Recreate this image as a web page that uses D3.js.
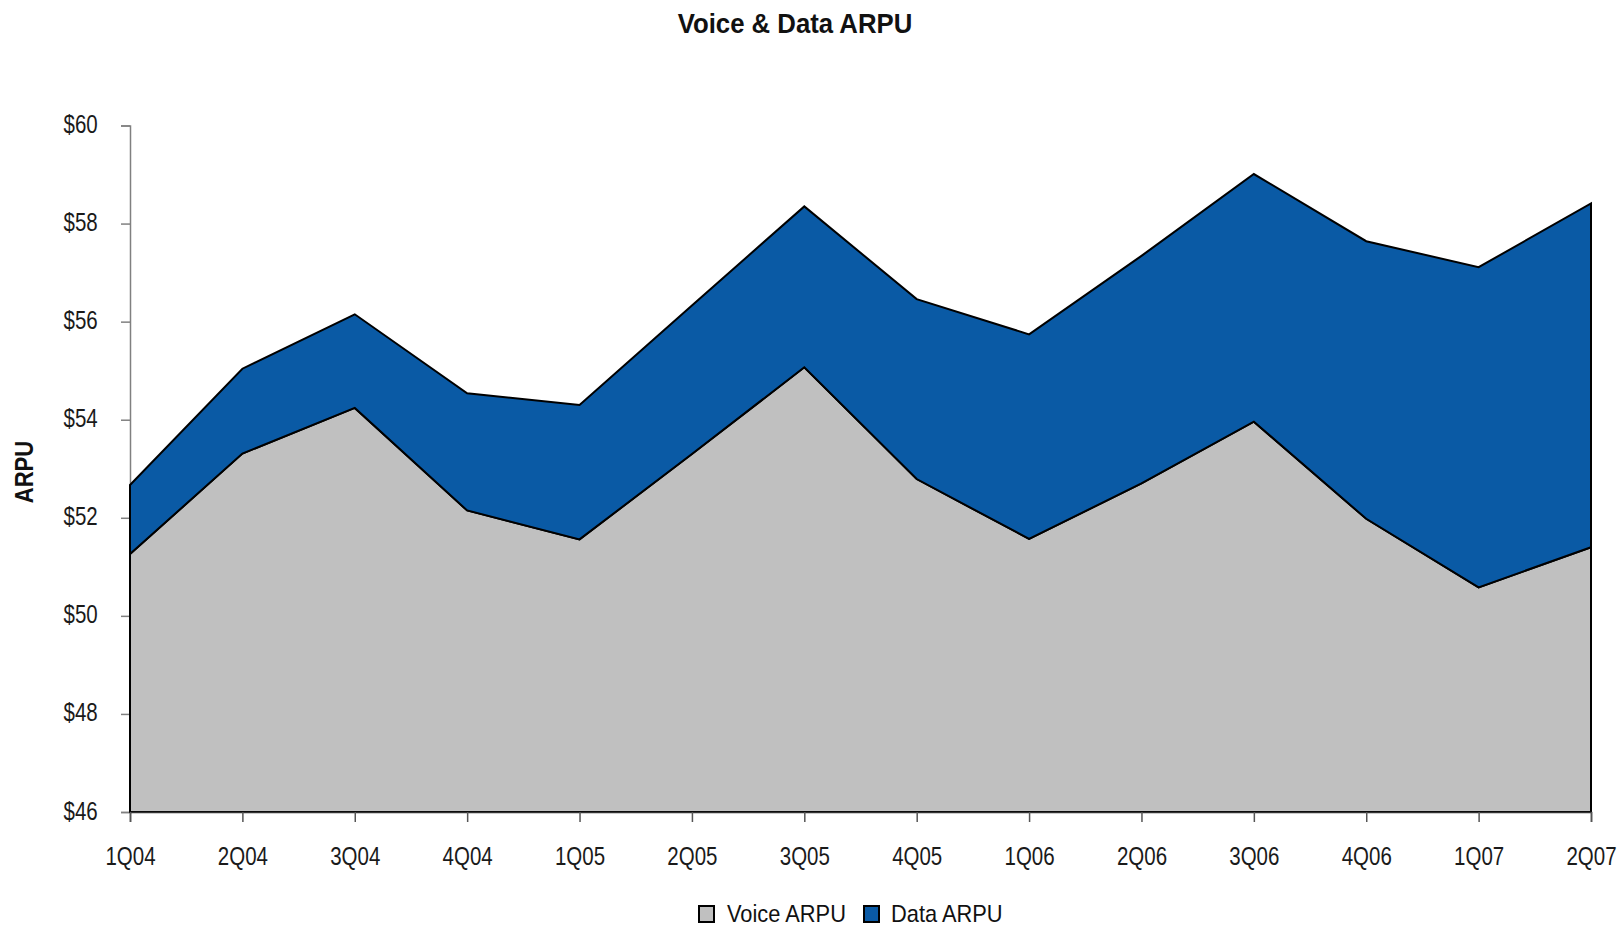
<!DOCTYPE html>
<html><head><meta charset="utf-8">
<script src="https://cdn.jsdelivr.net/npm/d3@7"></script>
<style>
html,body{margin:0;padding:0;background:#fff;}
svg{display:block;font-family:"Liberation Sans",Arial,sans-serif;}
</style></head>
<body>
<svg id="chart" width="1618" height="928"></svg>
<script>
const categories = ["1Q04","2Q04","3Q04","4Q04","1Q05","2Q05","3Q05","4Q05","1Q06","2Q06","3Q06","4Q06","1Q07","2Q07"];
const voiceARPU = [51.26,53.31,54.24,52.15,51.56,53.30,55.07,52.79,51.57,52.70,53.96,51.98,50.58,51.40];
const dataARPU  = [1.41,1.73,1.91,2.39,2.74,3.03,3.28,3.67,4.17,4.64,5.05,5.66,6.53,7.01];
const yTicks = [46,48,50,52,54,56,58,60];
const seriesNames = ["Voice ARPU","Data ARPU"];
const seriesColors = ["#c0c0c0","#0a5aa5"];

(function(){
const svg = d3.select("#chart");
const mLeft = 130, mRight = 1591, mTop = 125.5, mBottom = 812;
const SX = 0.82;

const x = d3.scalePoint().domain(categories).range([mLeft, mRight]);
const y = d3.scaleLinear().domain([46, 60]).range([mBottom, mTop]);

const rows = categories.map((c, i) => ({cat: c, voice: voiceARPU[i], data: dataARPU[i]}));
const stack = d3.stack().keys(["voice","data"]).value((d, k) => k === "voice" ? d.voice - 46 : d.data);
const layers = stack(rows);

const area = d3.area()
  .x(d => x(d.data.cat))
  .y0(d => y(d[0] + 46))
  .y1(d => y(d[1] + 46));

// Y axis
const yAxis = d3.axisLeft(y).tickValues(yTicks).tickSize(9).tickFormat(d => "$" + d);
const gy = svg.append("g").attr("transform", `translate(${mLeft},0)`).call(yAxis);
gy.select(".domain").attr("stroke", "#808080").attr("stroke-width", 1.5);
gy.selectAll(".tick line").attr("stroke", "#808080").attr("stroke-width", 1.5);
gy.selectAll(".tick text")
  .attr("x", 0).attr("y", 0).attr("dy", null)
  .attr("transform", `translate(-32.3,7) scale(${SX},1)`)
  .attr("font-size", 25).attr("fill", "#1a1a1a").attr("text-anchor", "end")
  .attr("font-family", "'Liberation Sans',Arial,sans-serif");

svg.append("g").selectAll("path").data(layers).join("path")
  .attr("d", area)
  .attr("fill", (d, i) => seriesColors[i])
  .attr("stroke", "#000")
  .attr("stroke-width", 2)
  .attr("stroke-linejoin", "miter");

// X axis
const xAxis = d3.axisBottom(x).tickSize(10);
const gx = svg.append("g").attr("transform", `translate(0,${mBottom})`).call(xAxis);
gx.select(".domain").attr("stroke", "#333").attr("stroke-width", 1.5);
gx.selectAll(".tick line").attr("stroke", "#555").attr("stroke-width", 1.5);
gx.selectAll(".tick text")
  .attr("x", 0).attr("y", 0).attr("dy", null)
  .attr("transform", `translate(0,53) scale(${SX},1)`)
  .attr("font-size", 25).attr("fill", "#1a1a1a")
  .attr("font-family", "'Liberation Sans',Arial,sans-serif");

// Title
svg.append("text").attr("transform", "translate(795,33) scale(0.92,1)").attr("text-anchor", "middle")
  .attr("font-size", 28).attr("font-weight", "bold").attr("fill", "#111")
  .text("Voice & Data ARPU");

// Y label
svg.append("text").attr("transform", "translate(33,472) rotate(-90) scale(0.85,1)").attr("text-anchor", "middle")
  .attr("font-size", 26).attr("font-weight", "bold").attr("fill", "#111").text("ARPU");

// Legend
const legendItems = [{x: 699, tx: 727, name: seriesNames[0], color: seriesColors[0]}, {x: 864, tx: 891, name: seriesNames[1], color: seriesColors[1]}];
const lg = svg.append("g");
legendItems.forEach(it => {
  lg.append("rect").attr("x", it.x).attr("y", 906).attr("width", 15).attr("height", 16)
    .attr("fill", it.color).attr("stroke", "#000").attr("stroke-width", 2);
  lg.append("text").attr("transform", `translate(${it.tx},922) scale(0.91,1)`)
    .attr("font-size", 24).attr("fill", "#111").text(it.name);
});
})();
</script>
</body></html>
